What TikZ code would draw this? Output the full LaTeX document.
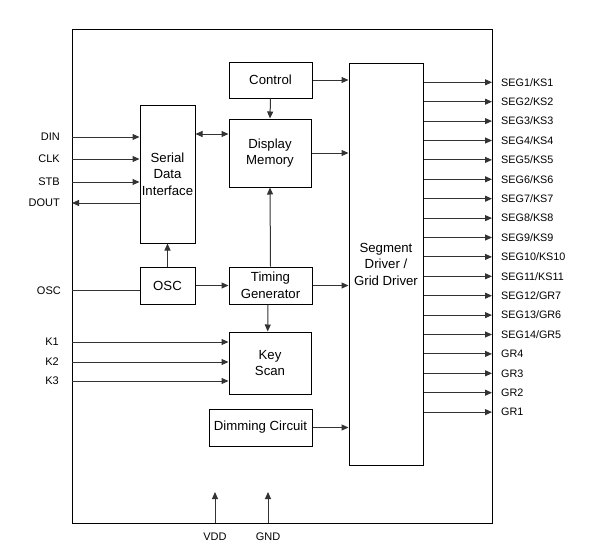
\documentclass[tikz,border=0pt]{standalone}
\usepackage{fontspec}
\setmainfont{Liberation Sans}
\usetikzlibrary{arrows.meta}
\begin{document}
\begin{tikzpicture}[x=1pt,y=-1pt,
  blk/.style={draw=black,line width=1pt,align=center,font=\fontsize{13.2}{16.5}\selectfont,inner sep=0pt},
  conn/.style={draw=black!80,line width=1pt,-{Triangle[length=7pt,width=6pt]}},
  plain/.style={draw=black!80,line width=1pt},
  pin/.style={font=\fontsize{11}{13}\selectfont,inner sep=0pt},
  spin/.style={font=\fontsize{10.8}{12}\selectfont,inner sep=0pt,anchor=west}]
\useasboundingbox (0,0) rectangle (596,552);
% outer chip box
\draw[line width=1pt] (72,29) rectangle (492,523);
% blocks
\node[blk,minimum width=83pt,minimum height=36pt] (ctrl) at (270.5,80) {Control};
\node[blk,minimum width=82pt,minimum height=68pt] (dm) at (270,153) {Display\\Memory};
\node[blk,minimum width=55pt,minimum height=138pt] (sdi) at (167.5,174) {Serial\\Data\\Interface};
\node[blk,minimum width=55pt,minimum height=37pt] (osc) at (167.5,285.5) {OSC};
\node[blk,minimum width=83pt,minimum height=37pt] (tg) at (270.5,285.5) {Timing\\Generator};
\node[blk,minimum width=82pt,minimum height=62pt] (ks) at (270,363) {Key\\Scan};
\node[blk,minimum width=103pt,minimum height=37pt] (dim) at (260.5,427.5) {Dimming Circuit};
\node[blk,minimum width=74pt,minimum height=402pt] (seg) at (386,264) {Segment\\Driver /\\Grid Driver};
% left pins
\foreach \n/\y in {din/137,clk/159,stb/182,dout/203,oscp/290,ka/342,kb/362,kc/381}
  \coordinate (\n) at (72,\y);
\node[pin,anchor=east] at (60,137) {DIN};
\node[pin,anchor=east] at (60,159) {CLK};
\node[pin,anchor=east] at (60,182) {STB};
\node[pin,anchor=east] at (60,203) {DOUT};
\node[pin,anchor=east] at (61,291) {OSC};
\node[pin,anchor=east] at (59,342) {K1};
\node[pin,anchor=east] at (59,362) {K2};
\node[pin,anchor=east] at (59,381) {K3};
\draw[conn] (din) -- (din -| sdi.west);
\draw[conn] (clk) -- (clk -| sdi.west);
\draw[conn] (stb) -- (stb -| sdi.west);
\draw[conn] (dout -| sdi.west) -- (dout);
\draw[plain] (oscp) -- (oscp -| osc.west);
\draw[conn] (ka) -- (ka -| ks.west);
\draw[conn] (kb) -- (kb -| ks.west);
\draw[conn] (kc) -- (kc -| ks.west);
% internal connections
\draw[conn] (ctrl.south) -- (dm.north);
\draw[conn,{Triangle[length=7pt,width=6pt]}-{Triangle[length=7pt,width=6pt]}] (sdi.east |- 0,134) -- (dm.west |- 0,134);
\draw[conn] (osc.north) -- (sdi.south);
\draw[conn] (osc.east) -- (tg.west);
\draw[conn] (tg.north) -- (dm.south);
\draw[conn] ([xshift=-2.5pt]tg.south) -- ([xshift=-2.3pt]ks.north);
\draw[conn] (ctrl.east) -- (ctrl.east -| seg.west);
\draw[conn] (dm.east) -- (dm.east -| seg.west);
\draw[conn] (tg.east) -- (tg.east -| seg.west);
\draw[conn] (dim.east) -- (dim.east -| seg.west);
% right outputs
\foreach \t [count=\i from 0] in {SEG1/KS1,SEG2/KS2,SEG3/KS3,SEG4/KS4,SEG5/KS5,SEG6/KS6,SEG7/KS7,SEG8/KS8,SEG9/KS9,SEG10/KS10,SEG11/KS11,SEG12/GR7,SEG13/GR6,SEG14/GR5,GR4,GR3,GR2,GR1} {
  \coordinate (o\i) at (492,{82.3+19.4*\i});
  \draw[conn] (o\i -| seg.east) -- (o\i);
  \node[spin] (l\i) at (501,{82.3+19.4*\i}) {\t};
}
% power pins
\coordinate (vdd) at (215,523);
\coordinate (gnd) at (268,523);
\draw[conn] (vdd) -- ++(0,-31);
\draw[conn] (gnd) -- ++(0,-31);
\node[pin] at (215,537) {VDD};
\node[pin] at (268,537) {GND};
\end{tikzpicture}
\end{document}
